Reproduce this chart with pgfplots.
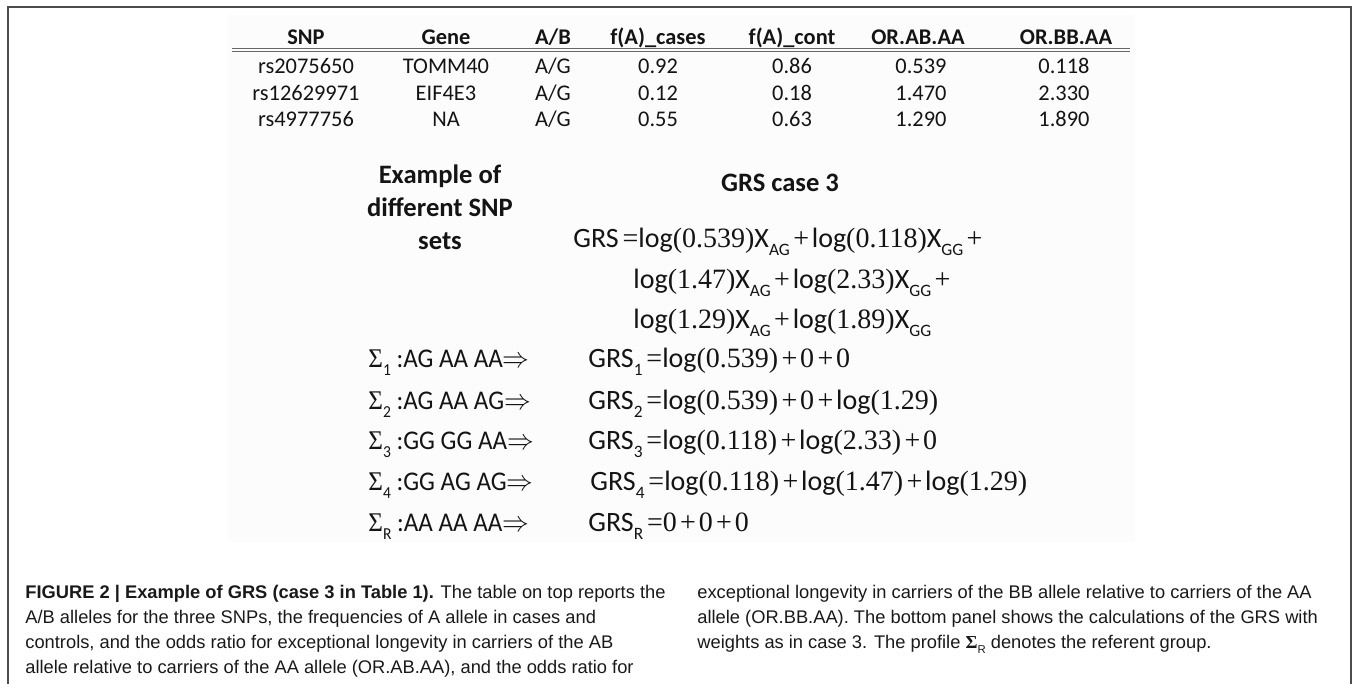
\documentclass[border=0pt]{standalone}
\usepackage{pgfplots}
\pgfplotsset{compat=1.18}
\usepackage{graphicx}
\usepackage{fontspec}
\setmainfont{Carlito}
\newfontfamily\tnr{Liberation Serif}
\newfontfamily\capfont{Liberation Sans}
\newcommand\sub[1]{\raisebox{-0.32em}{\scalebox{0.62}{#1}}}
\newcommand\pl{\kern0.12em{\tnr +}\kern0.1em}
\newcommand\eq{\kern0.14em{\tnr =}}
\newcommand\sig[1]{\scalebox{0.93}[1]{\fontsize{13.5}{16}\selectfont #1}}
\begin{document}
\begin{tikzpicture}
\begin{axis}[scale only axis, width=678pt, height=342pt,
  xmin=0, xmax=1356, ymin=0, ymax=684, y dir=reverse,
  axis lines=none, ticks=none, clip=false]
\addplot[draw=none] coordinates {(0,0) (1356,684)};
\fill[black!1.2] (228,15) rectangle (1135,542);
\draw[line width=1pt, black!70] (8,684) -- (8,7) -- (1351,7) -- (1351,684);
% ---- table ----
\begin{scope}[every node/.style={anchor=base, inner sep=0pt, font=\fontsize{11.2}{13}\selectfont, text=black!92}]
\node[font=\bfseries\fontsize{11.2}{13}\selectfont] at (306,44) {SNP};
\node[font=\bfseries\fontsize{11.2}{13}\selectfont] at (446,44) {Gene};
\node[font=\bfseries\fontsize{11.2}{13}\selectfont] at (553,44) {A/B};
\node[font=\bfseries\fontsize{11.2}{13}\selectfont] at (658,44) {f(A)\_cases};
\node[font=\bfseries\fontsize{11.2}{13}\selectfont] at (792,44) {f(A)\_cont};
\node[font=\bfseries\fontsize{11.2}{13}\selectfont] at (918,44) {OR.AB.AA};
\node[font=\bfseries\fontsize{11.2}{13}\selectfont] at (1066,44) {OR.BB.AA};
\node at (306,73) {rs2075650};  \node at (446,73) {TOMM40}; \node at (553,73) {A/G};
\node at (658,73) {0.92}; \node at (792,73) {0.86}; \node at (921,73) {0.539}; \node at (1064,73) {0.118};
\node at (306,100) {rs12629971}; \node at (446,100) {EIF4E3}; \node at (553,100) {A/G};
\node at (658,100) {0.12}; \node at (792,100) {0.18}; \node at (921,100) {1.470}; \node at (1064,100) {2.330};
\node at (306,126) {rs4977756};  \node at (446,126) {NA}; \node at (553,126) {A/G};
\node at (658,126) {0.55}; \node at (792,126) {0.63}; \node at (921,126) {1.290}; \node at (1064,126) {1.890};
\end{scope}
\draw[black!60, line width=0.5pt] (232,48) -- (1130,48);
\draw[black!60, line width=0.5pt] (232,51) -- (1130,51);
% ---- headings ----
\begin{scope}[every node/.style={anchor=base, inner sep=0pt, font=\bfseries\fontsize{13.3}{15}\selectfont, text=black!92}]
\node at (440,183) {Example of};
\node at (440,216) {different SNP};
\node at (440,249) {sets};
\node at (780,191) {GRS case 3};
\end{scope}
% ---- equations ----
\begin{scope}[every node/.style={anchor=base west, inner sep=0pt, font=\fontsize{14}{16}\selectfont, text=black!92}]
\node at (573,247) {GRS\eq log{\tnr(0.539)}X\sub{AG}\pl log{\tnr(0.118)}X\sub{GG}\pl};
\node at (633,288) {log{\tnr(1.47)}X\sub{AG}\pl log{\tnr(2.33)}X\sub{GG}\pl};
\node at (633,328) {log{\tnr(1.29)}X\sub{AG}\pl log{\tnr(1.89)}X\sub{GG}};
\node at (368,367) {\sig{{\tnr Σ}\sub{1} :AG AA AA$\Rightarrow$}};
\node at (368,409) {\sig{{\tnr Σ}\sub{2} :AG AA AG$\Rightarrow$}};
\node at (368,449) {\sig{{\tnr Σ}\sub{3} :GG GG AA$\Rightarrow$}};
\node at (368,490) {\sig{{\tnr Σ}\sub{4} :GG AG AG$\Rightarrow$}};
\node at (368,531) {\sig{{\tnr Σ}\sub{R} :AA AA AA$\Rightarrow$}};
\node at (588,367) {GRS\sub{1}\eq log{\tnr(0.539)}\pl{\tnr 0}\pl{\tnr 0}};
\node at (588,409) {GRS\sub{2}\eq log{\tnr(0.539)}\pl{\tnr 0}\pl log{\tnr(1.29)}};
\node at (588,449) {GRS\sub{3}\eq log{\tnr(0.118)}\pl log{\tnr(2.33)}\pl{\tnr 0}};
\node at (590,490) {GRS\sub{4}\eq log{\tnr(0.118)}\pl log{\tnr(1.47)}\pl log{\tnr(1.29)}};
\node at (588,531) {GRS\sub{R}\eq{\tnr 0}\pl{\tnr 0}\pl{\tnr 0}};
\end{scope}
% ---- caption ----
\begin{scope}[every node/.style={anchor=base west, inner sep=0pt, font=\capfont\fontsize{9.15}{11}\selectfont, text=black!90}]
\node at (25,598) {\textbf{FIGURE 2 | Example of GRS (case 3 in Table 1).} The table on top reports the};
\node at (25,623) {A/B alleles for the three SNPs, the frequencies of A allele in cases and};
\node at (25,648) {controls, and the odds ratio for exceptional longevity in carriers of the AB};
\node at (25,673) {allele relative to carriers of the AA allele (OR.AB.AA), and the odds ratio for};
\node at (697,598) {exceptional longevity in carriers of the BB allele relative to carriers of the AA};
\node at (697,623) {allele (OR.BB.AA). The bottom panel shows the calculations of the GRS with};
\node at (697,648) {weights as in case 3. The profile {\tnr\bfseries Σ}\sub{R} denotes the referent group.};
\end{scope}
\end{axis}
\end{tikzpicture}
\end{document}
